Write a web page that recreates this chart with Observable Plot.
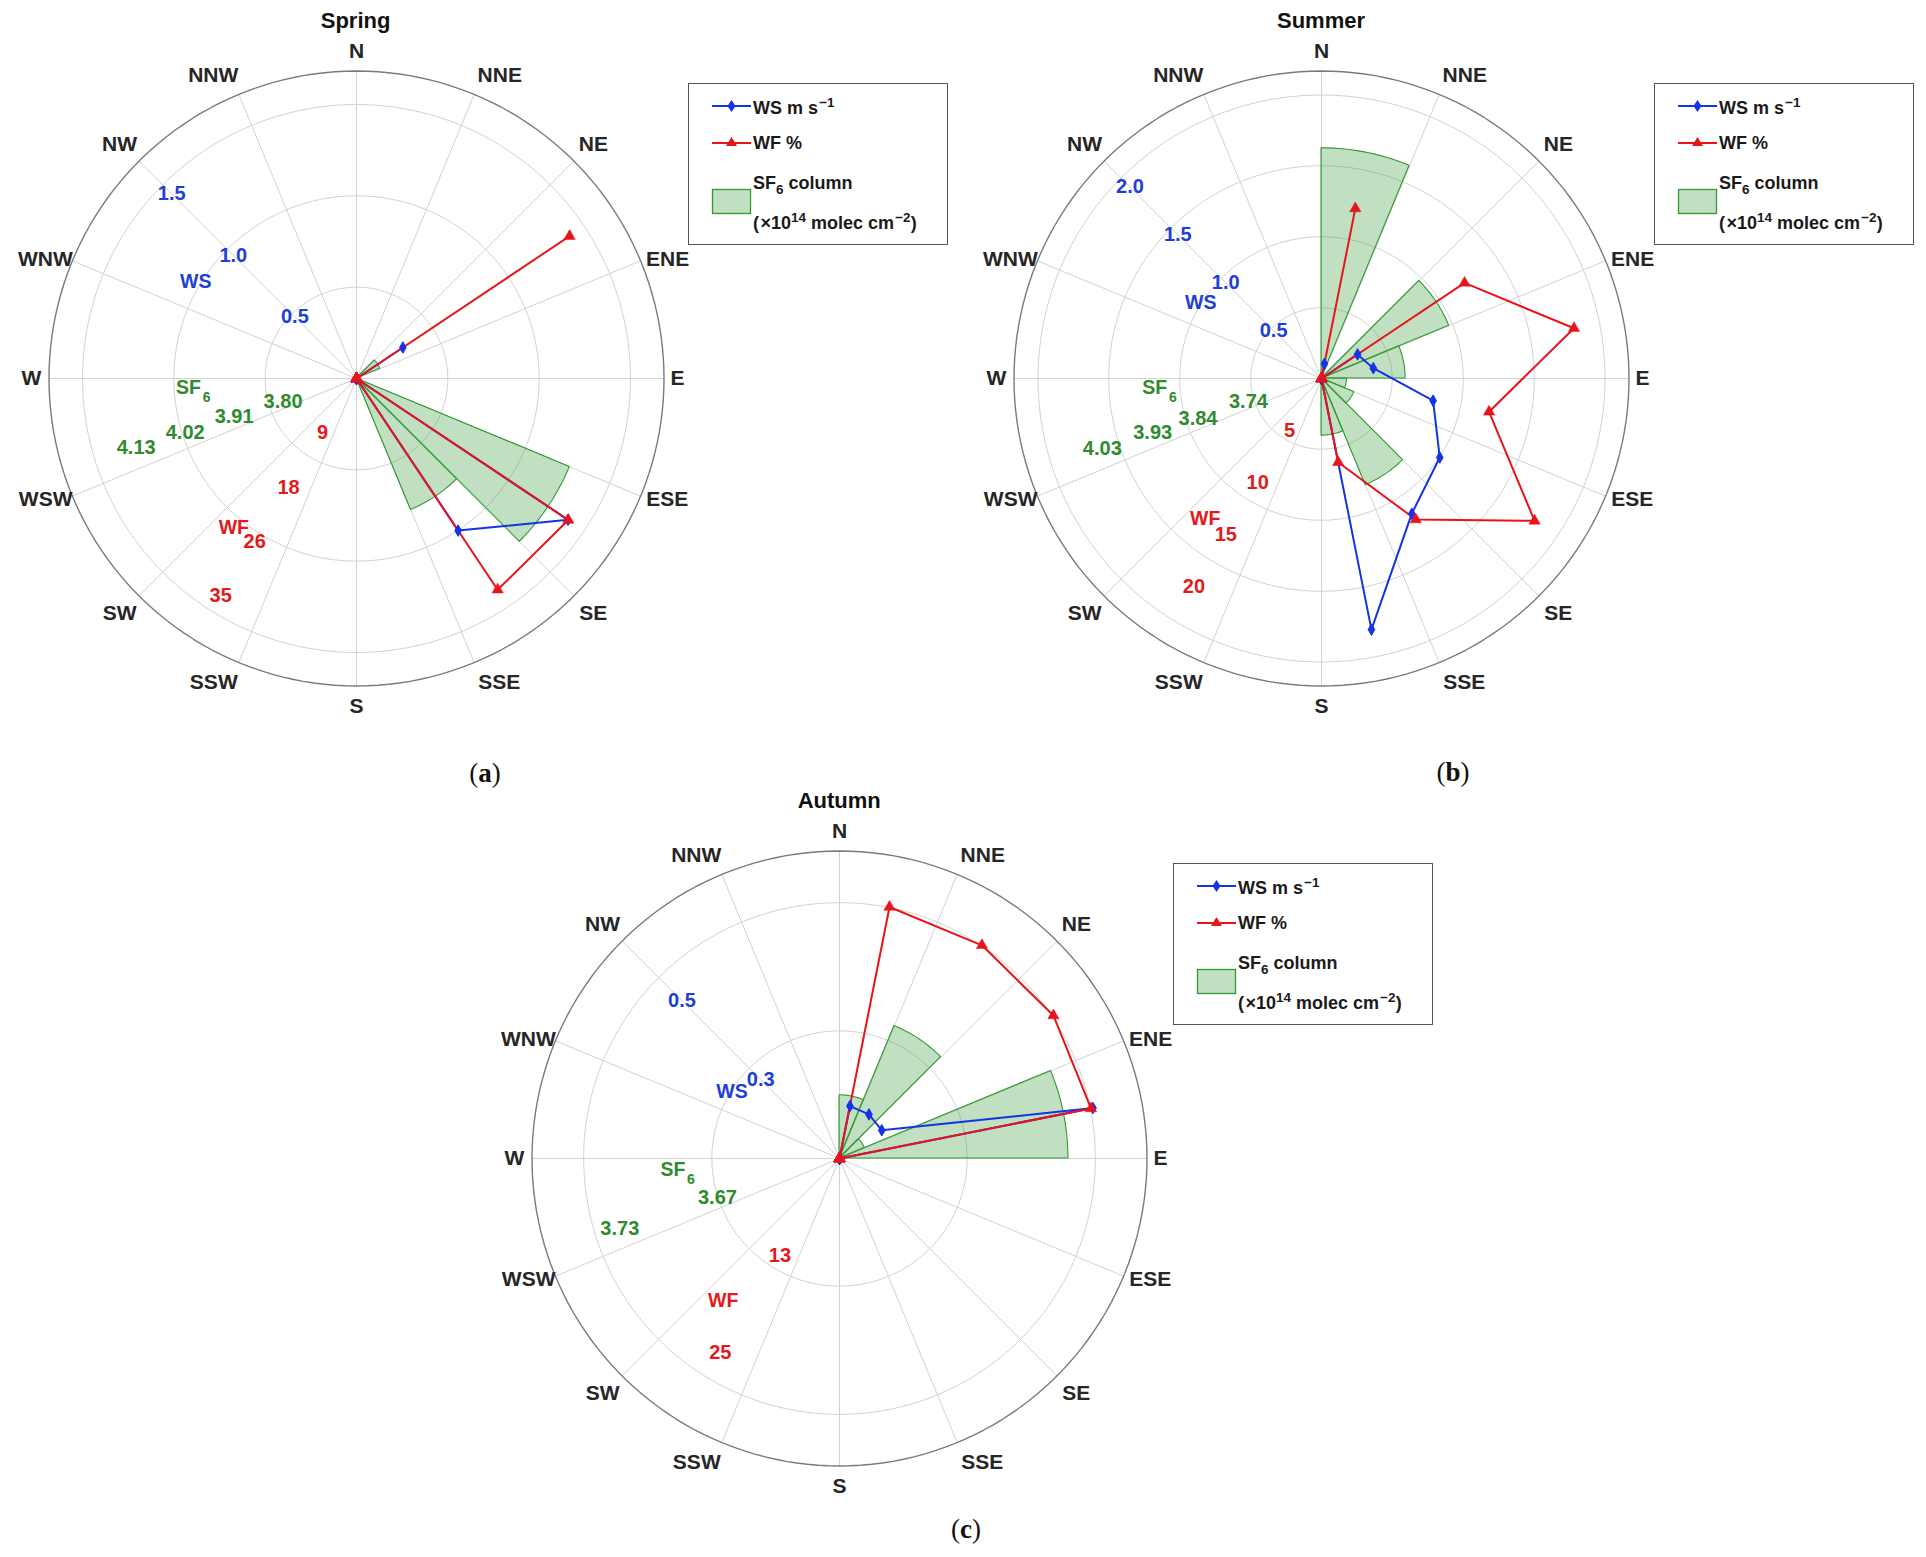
<!DOCTYPE html>
<html><head><meta charset="utf-8">
<script src="https://cdn.jsdelivr.net/npm/d3@7"></script>
<script src="https://cdn.jsdelivr.net/npm/@observablehq/plot@0.6"></script>
<style>
body{margin:0;background:#fff;}
#page{position:relative;width:1926px;height:1557px;overflow:hidden;background:#fff;font-family:"Liberation Sans",Arial,sans-serif;}
.panel{position:absolute;}
.title{position:absolute;font-weight:bold;font-size:22px;color:#111;transform:translate(-50%,-50%);white-space:nowrap;}
.legend{position:absolute;border:1.3px solid #555;background:#fff;box-sizing:border-box;width:260px;height:162px;}
.legend .t{position:absolute;font-weight:bold;font-size:18px;color:#1a1a1a;white-space:nowrap;transform:translateY(-50%);line-height:1;}
.legend sup{font-size:13.5px;vertical-align:7px;}
.legend sub{font-size:13.5px;vertical-align:-5px;}
.legend svg{position:absolute;left:0;top:0;}
.tag{position:absolute;font-family:"Liberation Serif","Times New Roman",serif;font-size:27px;color:#111;transform:translate(-50%,-50%);white-space:nowrap;}
</style></head>
<body><div id="page"></div>
<script>
// 16 compass directions; data bins are centred between consecutive compass lines
const directions = ["N","NNE","NE","ENE","E","ESE","SE","SSE","S","SSW","SW","WSW","W","WNW","NW","NNW"];

// ---- Spring ----
const springWS  = [0, 0, 0.32, 0, 0, 1.46, 1.05, 0, 0, 0, 0, 0, 0, 0, 0, 0];
const springWF  = [0, 0, 35.0, 0, 0, 34.8, 34.7, 0, 0, 0, 0, 0, 0, 0, 0, 0];
const springSF6 = [null, null, 3.69, null, null, 4.13, 3.94, null, null, null, null, null, null, null, null, null];
const springWSTicks = [0.5, 1.0, 1.5];
const springWFTicks = [8.75, 17.5, 26.25, 35];
const springSF6Ticks = [3.80, 3.91, 4.02, 4.13];

// ---- Summer ----
const summerWS  = [0.11, 0, 0.32, 0.39, 0.84, 1.05, 1.20, 1.89, 0, 0, 0, 0, 0, 0, 0, 0];
const summerWF  = [14.2, 0, 14.1, 21.1, 14.0, 21.0, 13.9, 7.0, 0, 0, 0, 0, 0, 0, 0, 0];
const summerSF6 = [4.03, null, 3.856, 3.754, 3.643, 3.662, 3.813, 3.703, null, null, null, null, null, null, null, null];
const summerWSTicks = [0.5, 1.0, 1.5, 2.0];
const summerWFTicks = [5, 10, 15, 20];
const summerSF6Ticks = [3.74, 3.84, 3.93, 4.03];

// ---- Autumn ----
const autumnWS  = [0.12, 0.119, 0.114, 0.58, 0, 0, 0, 0, 0, 0, 0, 0, 0, 0, 0, 0];
const autumnWF  = [28.1, 28.1, 28.2, 28.1, 0, 0, 0, 0, 0, 0, 0, 0, 0, 0, 0, 0];
const autumnSF6 = [3.632, 3.679, 3.611, 3.729, null, null, null, null, null, null, null, null, null, null, null, null];
const autumnWSTicks = [0.25, 0.5];
const autumnWFTicks = [12.5, 25];
const autumnSF6Ticks = [3.67, 3.73];

const BLUE = "#1433e6", RED = "#e8141c", GREEN = "#339933";
const BLUE_T = "#1e40d6", RED_T = "#e31a1c", GREEN_T = "#2e8b2e";
const FONT = "'Liberation Sans', Arial, sans-serif";
const R = 307.5, HALF = 358, DOM = HALF / R;

// compass-label placement (radius in frame units, angle in degrees), as laid out in the figure
const labelPlace = [
  [1.063, 0], [1.090, 25.3], [1.084, 45.3], [1.083, 69.1], [1.044, 90], [1.085, 111.3], [1.085, 134.8], [1.090, 154.8],
  [1.067, 180], [1.090, 205.2], [1.085, 225.2], [1.085, 248.7], [1.057, 270], [1.083, 290.9], [1.084, 314.7], [1.090, 334.7]
];

const rad = d => d * Math.PI / 180;
const px = (r, t) => r * Math.sin(rad(t));
const py = (r, t) => r * Math.cos(rad(t));
const binCentre = k => 11.25 + 22.5 * k;

function makePanel(cfg) {
  const wsS = d3.scaleLinear().domain([0, cfg.wsMax]).range([0, 1]);
  const wfS = d3.scaleLinear().domain([0, cfg.wfMax]).range([0, 1]);
  const sfS = d3.scaleLinear().domain(cfg.sfDomain).range([0, 1]);
  const circle = (r, id) => d3.range(0, 361, 2).map(t => ({id, x: px(r, t), y: py(r, t)}));
  const ringPts = cfg.rings.flatMap((r, i) => circle(r, i));
  const framePts = circle(1, "frame");
  const spokes = directions.map((name, i) => ({name, i, th: i * 22.5}));
  const wedgePts = cfg.sf6.flatMap((v, k) => v == null ? [] :
    d3.range(0, 16).map(j => { const t = 22.5 * k + j * 1.5; const r = sfS(v); return {k, x: px(r, t), y: py(r, t)}; }));
  const pts = (arr, s) => arr.map((v, k) => ({k, x: px(s(v), binCentre(k)), y: py(s(v), binCentre(k))}));
  const wsPts = pts(cfg.ws, wsS), wfPts = pts(cfg.wf, wfS);
  const tickPts = (ticks, s, th, fmt) => ticks.map(v => ({label: fmt(v), x: px(s(v), th), y: py(s(v), th)}));
  const wsTicks = tickPts(cfg.wsTicks, wsS, 315, v => v.toFixed(1));
  const wfTicks = tickPts(cfg.wfTicks, wfS, cfg.wfAngle, v => String(Math.round(v)));
  const sfTicks = tickPts(cfg.sfTicks, sfS, cfg.sfAngle, v => v.toFixed(2));
  const at = ([r, t]) => [{x: px(r, t), y: py(r, t)}];
  const txt = {fontFamily: FONT, fontWeight: "bold"};

  return Plot.plot({
    width: 2 * HALF, height: 2 * HALF, margin: 0,
    x: {domain: [-DOM, DOM], axis: null},
    y: {domain: [-DOM, DOM], axis: null},
    style: {background: "transparent", overflow: "visible", fontFamily: FONT},
    marks: [
      Plot.line(ringPts, {x: "x", y: "y", z: "id", stroke: "#d2d2d2", strokeWidth: 1}),
      Plot.link(spokes, {x1: () => 0, y1: () => 0, x2: d => px(1, d.th), y2: d => py(1, d.th), stroke: "#d2d2d2", strokeWidth: 1}),
      Plot.line(framePts, {x: "x", y: "y", stroke: "#7a7a7a", strokeWidth: 1.4}),
      Plot.area(wedgePts, {x1: "x", y1: "y", x2: () => 0, y2: () => 0, z: "k", fill: GREEN, fillOpacity: 0.3, stroke: GREEN, strokeWidth: 1.1}),
      Plot.line([...wsPts, wsPts[0]], {x: "x", y: "y", stroke: BLUE, strokeWidth: 2}),
      Plot.line([...wfPts, wfPts[0]], {x: "x", y: "y", stroke: RED, strokeWidth: 2}),
      Plot.dot(wsPts, {x: "x", y: "y", symbol: "diamond", r: 3.5, fill: BLUE, stroke: BLUE, strokeWidth: 1}),
      Plot.dot(wfPts, {x: "x", y: "y", symbol: "triangle", r: 4.2, fill: RED, stroke: RED, strokeWidth: 0.5}),
      Plot.text(spokes, {x: d => px(...labelPlace[d.i]), y: d => py(...labelPlace[d.i]), text: "name", fontSize: 21, fill: "#262626", ...txt}),
      Plot.text(wsTicks, {x: "x", y: "y", text: "label", fontSize: 20, fill: BLUE_T, ...txt}),
      Plot.text(wfTicks, {x: "x", y: "y", text: "label", fontSize: 20, fill: RED_T, ...txt}),
      Plot.text(sfTicks, {x: "x", y: "y", text: "label", fontSize: 20, fill: GREEN_T, ...txt}),
      Plot.text(at(cfg.wsLabel), {x: "x", y: "y", text: () => "WS", fontSize: 19.5, fill: BLUE_T, ...txt}),
      Plot.text(at(cfg.wfLabel), {x: "x", y: "y", text: () => "WF", fontSize: 19.5, fill: RED_T, ...txt}),
      Plot.text(at(cfg.sfLabel), {x: "x", y: "y", text: () => "SF", fontSize: 19.5, fill: GREEN_T, ...txt}),
      Plot.text(at(cfg.sfLabel), {x: "x", y: "y", text: () => "6", dx: 18, dy: 10, fontSize: 14, fill: GREEN_T, ...txt})
    ]
  });
}

const page = document.getElementById("page");
function place(el, cx, cy) {
  el.classList.add("panel");
  el.style.left = (cx - HALF) + "px";
  el.style.top = (cy - HALF) + "px";
  el.style.maxWidth = "none";
  page.appendChild(el);
}
function addTitle(text, x, y) {
  const d = document.createElement("div"); d.className = "title"; d.textContent = text;
  d.style.left = x + "px"; d.style.top = y + "px"; page.appendChild(d);
}
function addTag(letter, x, y) {
  const d = document.createElement("div"); d.className = "tag";
  d.innerHTML = `(<b>${letter}</b>)`; d.style.left = x + "px"; d.style.top = y + "px"; page.appendChild(d);
}
function addLegend(x, y) {
  const d = document.createElement("div"); d.className = "legend";
  d.style.left = x + "px"; d.style.top = y + "px";
  d.innerHTML = `
  <svg width="260" height="162">
    <line x1="23" y1="22" x2="62" y2="22" stroke="${BLUE}" stroke-width="2"/>
    <path d="M42.5,16 L46.5,22 L42.5,28 L38.5,22 Z" fill="${BLUE}"/>
    <line x1="23" y1="59" x2="62" y2="59" stroke="${RED}" stroke-width="2"/>
    <path d="M42.5,53 L48,62 L37,62 Z" fill="${RED}"/>
    <rect x="23.5" y="105.5" width="38" height="24" fill="${GREEN}" fill-opacity="0.3" stroke="${GREEN}" stroke-width="1.3"/>
  </svg>
  <div class="t" style="left:64px;top:22px">WS m s<sup>&#8202;&#8722;1</sup></div>
  <div class="t" style="left:64px;top:59px">WF %</div>
  <div class="t" style="left:64px;top:101px">SF<sub>6</sub> column</div>
  <div class="t" style="left:64px;top:137px">(&#8202;&#215;10<sup>14</sup> molec cm<sup>&#8202;&#8722;2</sup>)</div>`;
  page.appendChild(d);
}

place(makePanel({
  ws: springWS, wf: springWF, sf6: springSF6,
  wsMax: 1.765, wfMax: 42, sfDomain: [3.635, 4.294],
  wsTicks: springWSTicks, wfTicks: springWFTicks, sfTicks: springSF6Ticks,
  wfAngle: 212, sfAngle: 252.5,
  rings: [0.297, 0.594, 0.891],
  wsLabel: [0.61, 301], wfLabel: [0.627, 219.5], sfLabel: [0.547, 266.8]
}), 355.6, 378);

place(makePanel({
  ws: summerWS, wf: summerWF, sf6: summerSF6,
  wsMax: 2.27, wfMax: 25.2, sfDomain: [3.595, 4.176],
  wsTicks: summerWSTicks, wfTicks: summerWFTicks, sfTicks: summerSF6Ticks,
  wfAngle: 211.5, sfAngle: 252.2,
  rings: [0.23, 0.461, 0.692, 0.922],
  wsLabel: [0.463, 302], wfLabel: [0.593, 219.6], sfLabel: [0.543, 266.8]
}), 1321, 377.8);

place(makePanel({
  ws: autumnWS, wf: autumnWF, sf6: autumnSF6,
  wsMax: 0.69, wfMax: 33.7, sfDomain: [3.595, 3.775],
  wsTicks: autumnWSTicks, wfTicks: autumnWFTicks, sfTicks: autumnSF6Ticks,
  wfAngle: 211.5, sfAngle: 252.3,
  rings: [0.415, 0.832],
  wsLabel: [0.412, 302], wfLabel: [0.598, 219.2], sfLabel: [0.543, 266.3]
}), 839.2, 1157.7);

addTitle("Spring", 355.6, 21);
addTitle("Summer", 1321, 21);
addTitle("Autumn", 839.2, 800.7);
addLegend(688, 83);
addLegend(1654, 83);
addLegend(1173, 863);
addTag("a", 485, 773);
addTag("b", 1453, 772);
addTag("c", 966, 1529);
</script>
</body></html>
